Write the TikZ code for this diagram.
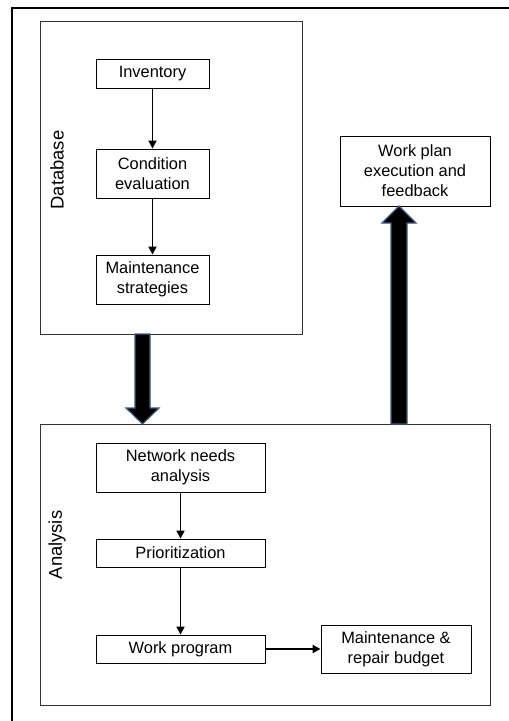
\documentclass[tikz,border=0pt]{standalone}
\usepackage{fontspec}
\setmainfont{Liberation Sans}
\usetikzlibrary{arrows.meta,calc,positioning}
\definecolor{rimblue}{RGB}{62,92,132}

\begin{document}
\begin{tikzpicture}[x=1pt,y=-1pt]
    \useasboundingbox (0,0) rectangle (509,721);
    \tikzset{StepStyle/.style = {draw,
        line width = 0.9pt,
        inner sep  = 0pt,
        align      = center,
        font       = \fontsize{16.4}{20}\selectfont},
      PanelStyle/.style = {draw = black!80,
        line width = 0.9pt,
        inner sep  = 0pt},
      SideStyle/.style = {rotate = 90,
        font = \fontsize{18.4}{22}\selectfont},
      EdgeStyle/.style = {line width = 1.7pt,
        -{Triangle[length=8pt,width=8pt]}},
      FatStyle/.style = {fill = black,
        draw = rimblue,
        line width = 1.2pt,
        line join = miter}}
    % outer frame
    \draw[line width=1.4pt] (12,721) -- (12,8) -- (509,8);
    % panels
    \node[PanelStyle, minimum width=262, minimum height=313] (db) at (171,177.5) {};
    \node[PanelStyle, minimum width=450, minimum height=281] (an) at (265,564.5) {};
    \node[SideStyle] (dbLabel) at (57,170) {Database};
    \node[SideStyle] (anLabel) at (57,545) {Analysis};
    % database steps
    \node[StepStyle, minimum width=113, minimum height=29] (inv)  at (152.5,73.5) {Inventory};
    \node[StepStyle, minimum width=113, minimum height=49] (cond) at (152.5,173.5) {Condition\\evaluation};
    \node[StepStyle, minimum width=113, minimum height=49] (strat) at (152.5,279.5) {Maintenance\\strategies};
    % analysis steps
    \node[StepStyle, minimum width=169, minimum height=49] (need) at (180.5,467.5) {Network needs\\analysis};
    \node[StepStyle, minimum width=169, minimum height=28] (prio) at (180.5,553) {Prioritization};
    \node[StepStyle, minimum width=169, minimum height=28] (prog) at (180.5,649) {Work program};
    \node[StepStyle, minimum width=150, minimum height=48] (budget) at (396,649) {Maintenance \&\\repair budget};
    \node[StepStyle, minimum width=150, minimum height=70] (plan) at (415,171) {Work plan\\execution and\\feedback};
    \draw[EdgeStyle] (inv) -- (cond);
    \draw[EdgeStyle] (cond) -- (strat);
    \draw[EdgeStyle] (need) -- (prio);
    \draw[EdgeStyle] (prio) -- (prog);
    \draw[EdgeStyle, line width=2.4pt] (prog) -- (budget);
    % fat arrows
    \coordinate (dnTop) at (142.5,334);
    \coordinate (dnTip) at (142.5,424);
    \coordinate (upBot) at (399,424);
    \coordinate (upTip) at (399,206);
    \filldraw[FatStyle] ($(dnTop)+(-7.5,0)$) -- ($(dnTip)+(-7.5,-16)$) -- ($(dnTip)+(-16.5,-16)$)
      -- (dnTip) -- ($(dnTip)+(16.5,-16)$) -- ($(dnTip)+(7.5,-16)$) -- ($(dnTop)+(7.5,0)$) -- cycle;
    \filldraw[FatStyle] ($(upBot)+(-8,0)$) -- ($(upTip)+(-8,17)$) -- ($(upTip)+(-17,17)$)
      -- (upTip) -- ($(upTip)+(17,17)$) -- ($(upTip)+(8,17)$) -- ($(upBot)+(8,0)$) -- cycle;
  \end{tikzpicture}
\end{document}
